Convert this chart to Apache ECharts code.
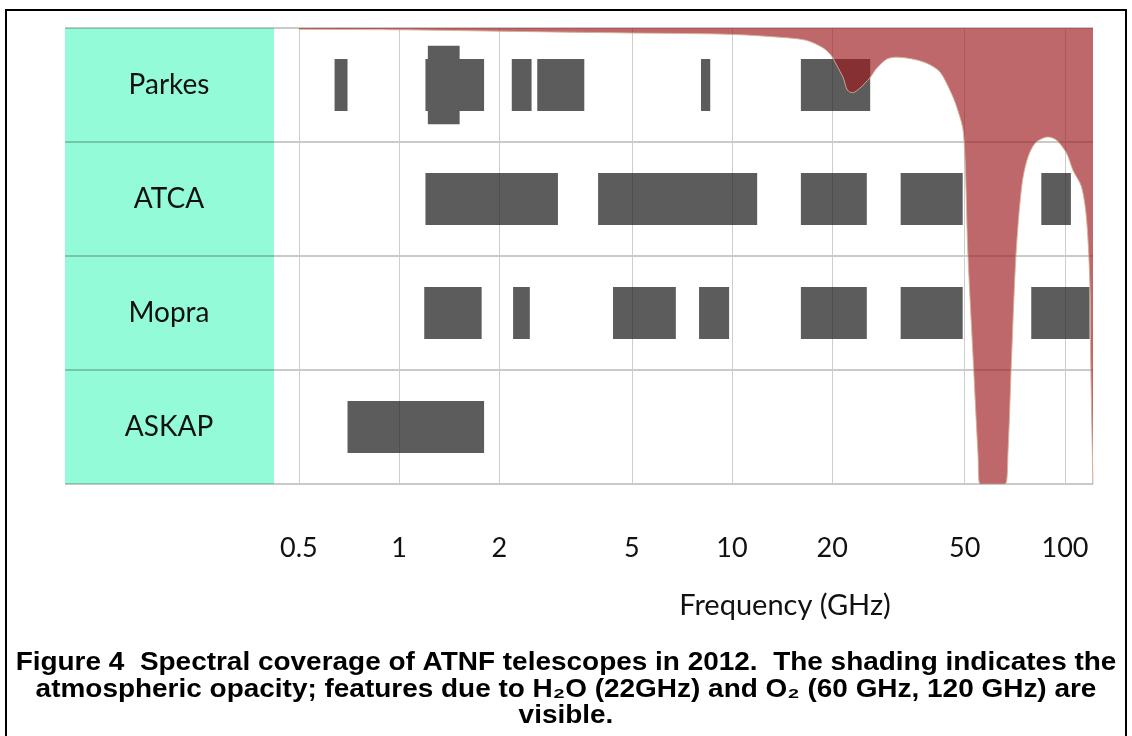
<!DOCTYPE html>
<html>
<head>
<meta charset="utf-8">
<script src="https://cdn.jsdelivr.net/npm/echarts@6/dist/echarts.min.js"></script>
<style>
  html, body { margin: 0; padding: 0; background: #fff; }
  #chart { width: 1132px; height: 736px; }
</style>
</head>
<body>
<div id="chart"></div>
<script>
// telescopes, top to bottom
const telescopes = ['Parkes', 'ATCA', 'Mopra', 'ASKAP']

// receiver bands in GHz, [low, high]
const parkesBands = [[0.64, 0.70], [1.2, 1.8], [2.18, 2.5], [2.6, 3.6], [8.07, 8.6], [16.1, 26.0]]
const parkesMultibeam = [[1.22, 1.52]]
const atcaBands = [[1.2, 3.0], [3.96, 11.9], [16.1, 25.4], [32.1, 49.3], [84.9, 104.2]]
const mopraBands = [[1.19, 1.77], [2.2, 2.47], [4.39, 6.78], [7.96, 9.8], [16.1, 25.4], [32.1, 49.3], [79.2, 118.6]]
const askapBands = [[0.7, 1.8]]

// atmospheric opacity (0 = clear, 1 = opaque) against frequency in GHz
const opacityFreq = [0.5, 1, 2, 5, 10, 14.9, 16.9, 18.8, 19.8, 20.6, 21.6, 22.2, 23.0, 24.2, 25.9, 27.2, 29.2, 31.2, 35.9, 39.4, 42.2, 45.1, 47.3, 49.6, 51.1, 52.9, 54.8, 55.6, 60, 66.1, 67.4, 69.2, 71.3, 74.1, 76.9, 81.3, 88.9, 94.4, 101.2, 105.7, 112.2, 116.2, 118.9, 119.4, 121.4]
const opacityLevel = [0.003, 0.004, 0.007, 0.011, 0.014, 0.022, 0.028, 0.044, 0.059, 0.081, 0.110, 0.136, 0.142, 0.132, 0.110, 0.088, 0.068, 0.064, 0.070, 0.081, 0.097, 0.136, 0.173, 0.231, 0.495, 0.714, 0.934, 1, 1, 1, 0.934, 0.714, 0.495, 0.349, 0.290, 0.253, 0.239, 0.246, 0.275, 0.312, 0.349, 0.422, 0.569, 0.714, 1]

// axis ticks in GHz
const tickValues = [0.5, 1, 2, 5, 10, 20, 50, 100]
const freqMin = 0.421
const freqMax = 121.4

const barColor = 'rgba(32, 32, 32, 0.73)'
const gridColor = '#cdcdcd'
const rowLineColor = 'rgba(0, 0, 0, 0.28)'
const labelFont = 'Lato, "Open Sans", sans-serif'
const captionFont = 'bold 25px "Liberation Sans", Arial, sans-serif'
const bandRatio = 0.456
const tallRatio = 0.69

// 所有波段按行号展开，x 用 log10(GHz)
const allBands = [parkesBands, atcaBands, mopraBands, askapBands]
const bandData = []
allBands.forEach(function (list, row) {
  list.forEach(function (b) {
    bandData.push([Math.log10(b[0]), Math.log10(b[1]), row])
  })
})
const multibeamData = parkesMultibeam.map(function (b) {
  return [Math.log10(b[0]), Math.log10(b[1]), 0]
})
const opacityData = opacityFreq.map(function (f, i) {
  return [Math.log10(f), opacityLevel[i]]
})

function renderBand(params, api) {
  const start = api.coord([api.value(0), api.value(2)])
  const end = api.coord([api.value(1), api.value(2)])
  const h = api.size([0, 1])[1] * bandRatio
  return {
    type: 'rect',
    shape: { x: start[0], y: start[1] - h / 2, width: end[0] - start[0], height: h },
    style: { fill: barColor }
  }
}

// 多波束接收机更高，只画超出普通波段的上下两条，避免半透明叠加变深
function renderTall(params, api) {
  const start = api.coord([api.value(0), api.value(2)])
  const end = api.coord([api.value(1), api.value(2)])
  const band = api.size([0, 1])[1]
  const h = band * bandRatio
  const H = band * tallRatio
  const w = end[0] - start[0]
  const extra = (H - h) / 2
  return {
    type: 'group',
    children: [
      { type: 'rect', shape: { x: start[0], y: start[1] - H / 2, width: w, height: extra }, style: { fill: barColor } },
      { type: 'rect', shape: { x: start[0], y: start[1] + h / 2, width: w, height: extra }, style: { fill: barColor } }
    ]
  }
}

const myChart = echarts.init(document.getElementById('chart'))

const option = {
  backgroundColor: '#fff',
  animation: false,
  grid: [
    {
      // 左侧青色标签列
      left: 65, top: 28, width: 209, height: 456,
      show: true, backgroundColor: '#93fbd7', borderWidth: 0
    },
    { left: 274, top: 28, width: 819, height: 456 }
  ],
  xAxis: [
    { gridIndex: 0, type: 'value', min: 0, max: 1, show: false },
    {
      gridIndex: 1,
      type: 'value',
      min: Math.log10(freqMin),
      max: Math.log10(freqMax),
      axisLine: { show: false },
      axisTick: {
        show: true,
        length: 33,
        customValues: tickValues.map(Math.log10),
        lineStyle: { color: gridColor, width: 1 }
      },
      axisLabel: {
        customValues: tickValues.map(Math.log10),
        margin: 51,
        fontFamily: labelFont,
        fontSize: 27,
        color: '#111',
        formatter: function (v) {
          return String(+Math.pow(10, v).toPrecision(3))
        }
      },
      splitLine: { show: true, lineStyle: { color: gridColor, width: 1 } }
    }
  ],
  yAxis: [
    {
      gridIndex: 0,
      type: 'category',
      inverse: true,
      data: telescopes,
      axisLine: { show: false },
      axisTick: { show: false },
      axisLabel: {
        inside: true,
        margin: 104,
        align: 'center',
        fontFamily: labelFont,
        fontSize: 28,
        color: '#111'
      },
      splitLine: { show: true, lineStyle: { color: rowLineColor, width: 1.5 } }
    },
    {
      gridIndex: 1,
      type: 'category',
      inverse: true,
      data: telescopes,
      axisLine: { show: false },
      axisTick: { show: false },
      axisLabel: { show: false },
      splitLine: { show: true, lineStyle: { color: rowLineColor, width: 1.5 } }
    },
    { gridIndex: 1, type: 'value', min: 0, max: 1, inverse: true, show: false }
  ],
  series: [
    {
      type: 'custom',
      xAxisIndex: 1,
      yAxisIndex: 1,
      renderItem: renderBand,
      encode: { x: [0, 1], y: 2 },
      data: bandData
    },
    {
      type: 'custom',
      xAxisIndex: 1,
      yAxisIndex: 1,
      renderItem: renderTall,
      encode: { x: [0, 1], y: 2 },
      data: multibeamData
    },
    {
      // 大气不透明度，从顶部往下填充
      type: 'line',
      xAxisIndex: 1,
      yAxisIndex: 2,
      data: opacityData,
      smooth: 0.3,
      showSymbol: false,
      lineStyle: { color: 'rgba(214, 176, 150, 0.9)', width: 1 },
      areaStyle: { color: 'rgba(156, 26, 30, 0.66)', opacity: 1 },
      z: 3
    }
  ],
  graphic: [
    {
      type: 'rect',
      shape: { x: 6, y: 10, width: 1120, height: 740 },
      style: { fill: 'none', stroke: '#000', lineWidth: 2 },
      silent: true
    },
    {
      type: 'text',
      x: 785, y: 606,
      style: {
        text: 'Frequency (GHz)',
        font: '29px ' + labelFont,
        fill: '#111',
        align: 'center',
        verticalAlign: 'middle'
      }
    },
    {
      type: 'text',
      x: 566, y: 663, scaleX: 1.118,
      style: {
        text: 'Figure 4  Spectral coverage of ATNF telescopes in 2012.  The shading indicates the',
        font: captionFont,
        fill: '#000',
        align: 'center',
        verticalAlign: 'middle'
      }
    },
    {
      type: 'text',
      x: 566, y: 690, scaleX: 1.118,
      style: {
        text: 'atmospheric opacity; features due to H\u2082O (22GHz) and O\u2082 (60 GHz, 120 GHz) are',
        font: captionFont,
        fill: '#000',
        align: 'center',
        verticalAlign: 'middle'
      }
    },
    {
      type: 'text',
      x: 566, y: 716, scaleX: 1.118,
      style: {
        text: 'visible.',
        font: captionFont,
        fill: '#000',
        align: 'center',
        verticalAlign: 'middle'
      }
    }
  ]
}

myChart.setOption(option, true)
</script>
</body>
</html>
